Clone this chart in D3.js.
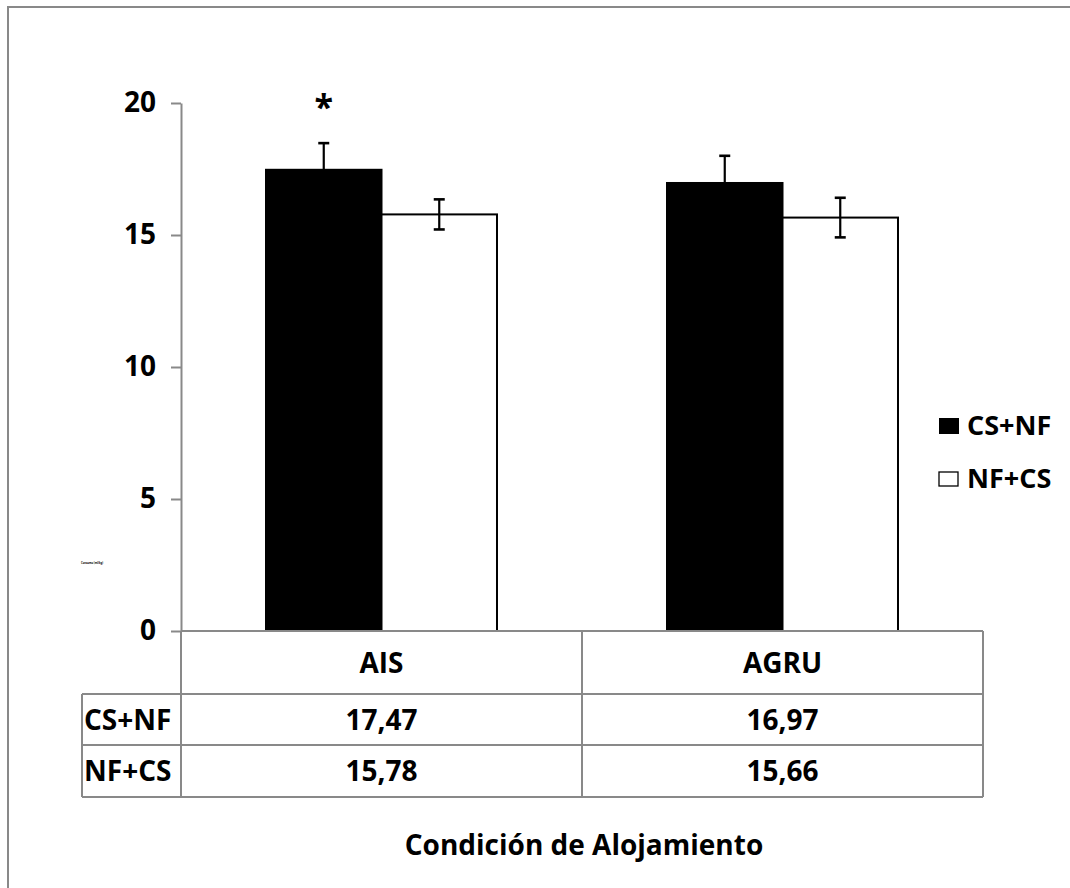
<!DOCTYPE html>
<html>
<head>
<meta charset="utf-8">
<script src="https://cdn.jsdelivr.net/npm/d3@7"></script>
<style>
  html, body { margin: 0; padding: 0; background: #fff; }
  svg { display: block; }
  text { font-family: "Open Sans", Lato, sans-serif; font-weight: 700; fill: #000; }
</style>
</head>
<body>
<svg id="chart" width="1070" height="888"></svg>
<script>
const categories = ["AIS", "AGRU"];
const seriesNames = ["CS+NF", "NF+CS"];
const csnfValues = [17.47, 16.97];
const nfcsValues = [15.78, 15.66];
const csnfErrors = [1.01, 1.03];
const nfcsErrors = [0.57, 0.75];
const csnfLabels = ["17,47", "16,97"];
const nfcsLabels = ["15,78", "15,66"];
const yTicks = [0, 5, 10, 15, 20];
const xTitle = "Condición de Alojamiento";
const significance = ["*", ""];

const svg = d3.select("#chart");
const grey = "#898989";
const FONT = "'Open Sans', Lato, sans-serif";

svg.append("rect").attr("width", 1070).attr("height", 888).attr("fill", "#fff");
// outer frame (extends past the right/bottom edges)
svg.append("rect").attr("x", 8).attr("y", 7).attr("width", 1200).attr("height", 1000)
  .attr("fill", "none").attr("stroke", grey).attr("stroke-width", 2);

const plotLeft = 181, plotRight = 983, plotTop = 103, plotBottom = 631;

const x = d3.scaleBand().domain(categories).range([plotLeft, plotRight]).paddingInner(0).paddingOuter(0);
const xSub = d3.scaleBand().domain(seriesNames).range([0, x.bandwidth()]).paddingInner(0).paddingOuter(0.736);
const y = d3.scaleLinear().domain([0, 20]).range([plotBottom, plotTop]);

const data = categories.map((c, i) => ({
  cat: c,
  vals: [
    { s: "CS+NF", v: csnfValues[i], e: csnfErrors[i], fill: "#000" },
    { s: "NF+CS", v: nfcsValues[i], e: nfcsErrors[i], fill: "#fff" }
  ]
}));

// Y axis
const yAxis = d3.axisLeft(y).tickValues(yTicks).tickSize(10).tickSizeOuter(0).tickPadding(15).tickFormat(d3.format("d"));
const gy = svg.append("g").attr("transform", `translate(${plotLeft},0)`).call(yAxis);
gy.select(".domain").attr("stroke", grey).attr("stroke-width", 2);
gy.selectAll(".tick line").attr("stroke", grey).attr("stroke-width", 2);
gy.selectAll(".tick text").attr("font-size", 28).attr("font-family", FONT).attr("font-weight", 700).attr("fill", "#000");

// tiny axis label (illegible in the original)
svg.append("text").attr("x", 81).attr("y", 564).attr("font-size", 2.6).attr("font-weight", 400)
  .attr("fill", "#999").text("Consumo (ml/kg)");

// Bars
const groups = svg.append("g").selectAll("g").data(data).join("g")
  .attr("transform", d => `translate(${x(d.cat)},0)`);

groups.selectAll("rect").data(d => d.vals).join("rect")
  .attr("x", d => xSub(d.s))
  .attr("y", d => y(d.v))
  .attr("width", xSub.bandwidth())
  .attr("height", d => y(0) - y(d.v))
  .attr("fill", d => d.fill)
  .attr("stroke", "#000").attr("stroke-width", 2);

// Error bars
const eb = groups.selectAll("g.err").data(d => d.vals).join("g").attr("class", "err");
const cx = d => xSub(d.s) + xSub.bandwidth() / 2;
eb.append("line")
  .attr("x1", cx).attr("x2", cx)
  .attr("y1", d => y(d.v - d.e)).attr("y2", d => y(d.v + d.e))
  .attr("stroke", "#000").attr("stroke-width", 2.2);
eb.append("line")
  .attr("x1", d => cx(d) - 5.5).attr("x2", d => cx(d) + 5.5)
  .attr("y1", d => y(d.v + d.e)).attr("y2", d => y(d.v + d.e))
  .attr("stroke", "#000").attr("stroke-width", 2.6);
eb.append("line")
  .attr("x1", d => cx(d) - 5.5).attr("x2", d => cx(d) + 5.5)
  .attr("y1", d => y(d.v - d.e)).attr("y2", d => y(d.v - d.e))
  .attr("stroke", "#000").attr("stroke-width", 2.6);

// significance
svg.append("g").selectAll("text").data(categories).join("text")
  .attr("x", (c) => x(c) + xSub("CS+NF") + xSub.bandwidth() / 2)
  .attr("y", (c, i) => y(csnfValues[i] + csnfErrors[i]) - 24)
  .attr("text-anchor", "middle").attr("font-size", 34)
  .text((c, i) => significance[i]);

// x axis line / table top
svg.append("line").attr("x1", plotLeft).attr("x2", plotRight).attr("y1", plotBottom).attr("y2", plotBottom)
  .attr("stroke", grey).attr("stroke-width", 2);

// Data table
const rowY = [631, 694, 745, 797];
const labelLeft = 82;
const tbl = svg.append("g");
[694, 745, 797].forEach(yy => {
  tbl.append("line").attr("x1", labelLeft).attr("x2", plotRight).attr("y1", yy).attr("y2", yy)
    .attr("stroke", grey).attr("stroke-width", 2);
});
const vx = [plotLeft].concat(categories.map(c => x(c) + x.bandwidth()));
vx.forEach(xx => {
  tbl.append("line").attr("x1", xx).attr("x2", xx).attr("y1", plotBottom).attr("y2", 797)
    .attr("stroke", grey).attr("stroke-width", 2);
});
tbl.append("line").attr("x1", labelLeft).attr("x2", labelLeft).attr("y1", 694).attr("y2", 797)
  .attr("stroke", grey).attr("stroke-width", 2);

tbl.selectAll("text.hdr").data(categories).join("text").attr("class", "hdr")
  .attr("x", c => x(c) + x.bandwidth() / 2).attr("y", (rowY[0] + rowY[1]) / 2)
  .attr("dy", "0.36em").attr("text-anchor", "middle").attr("font-size", 28).text(c => c);
seriesNames.forEach((s, r) => {
  tbl.append("text").attr("x", 84).attr("y", (rowY[r + 1] + rowY[r + 2]) / 2)
    .attr("dy", "0.36em").attr("font-size", 28).text(s);
});
[csnfLabels, nfcsLabels].forEach((labels, r) => {
  tbl.selectAll("text.v" + r).data(categories).join("text").attr("class", "v" + r)
    .attr("x", c => x(c) + x.bandwidth() / 2).attr("y", (rowY[r + 1] + rowY[r + 2]) / 2)
    .attr("dy", "0.36em").attr("text-anchor", "middle").attr("font-size", 28)
    .text((c, i) => labels[i]);
});

// Legend
const legend = svg.append("g").attr("transform", "translate(939,418)");
seriesNames.forEach((s, i) => {
  const g = legend.append("g").attr("transform", `translate(0,${i * 53})`);
  g.append("rect").attr("x", 0).attr("y", i === 0 ? 0 : 1).attr("width", i === 0 ? 20 : 19).attr("height", i === 0 ? 16 : 14)
    .attr("fill", i === 0 ? "#000" : "#fff").attr("stroke", "#000").attr("stroke-width", i === 0 ? 0 : 1.3);
  g.append("text").attr("x", 28).attr("y", 17).attr("font-size", 27).text(s);
});

// X title
svg.append("text").attr("x", 584).attr("y", 845).attr("dy", "0.36em").attr("text-anchor", "middle")
  .attr("font-size", 28).text(xTitle);
</script>
</body>
</html>
